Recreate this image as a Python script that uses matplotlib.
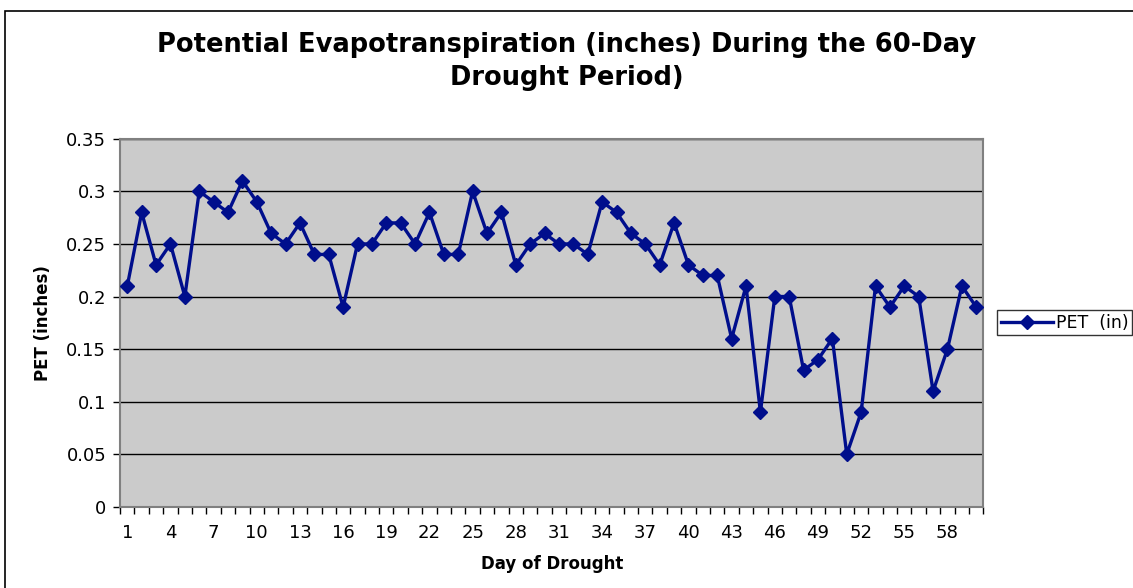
import matplotlib.pyplot as plt
from matplotlib.patches import Rectangle

plt.rcParams['font.family'] = ['DejaVu Sans']

# Datos
dias = list(range(1, 61))
pet = [0.21, 0.28, 0.23, 0.25, 0.20, 0.30, 0.29, 0.28, 0.31, 0.29,
       0.26, 0.25, 0.27, 0.24, 0.24, 0.19, 0.25, 0.25, 0.27, 0.27,
       0.25, 0.28, 0.24, 0.24, 0.30, 0.26, 0.28, 0.23, 0.25, 0.26,
       0.25, 0.25, 0.24, 0.29, 0.28, 0.26, 0.25, 0.23, 0.27, 0.23,
       0.22, 0.22, 0.16, 0.21, 0.09, 0.20, 0.20, 0.13, 0.14, 0.16,
       0.05, 0.09, 0.21, 0.19, 0.21, 0.20, 0.11, 0.15, 0.21, 0.19]
y_ticks = [0, 0.05, 0.1, 0.15, 0.2, 0.25, 0.3, 0.35]
y_labels = ['0', '0.05', '0.1', '0.15', '0.2', '0.25', '0.3', '0.35']

azul = '#000E8C'

fig = plt.figure(figsize=(11.33, 5.88), dpi=100)
fig.patches.append(Rectangle((0.004, -0.01), 1.2, 0.991, transform=fig.transFigure,
                             fill=False, edgecolor='black', linewidth=1.2))

ax = fig.add_axes([0.106, 0.138, 0.762, 0.626])
ax.set_facecolor('#CBCBCB')
ax.plot(dias, pet, color=azul, linewidth=2.4, marker='D', markersize=7.5,
        label='PET  (in)', zorder=3)

ax.set_xlim(0.5, 60.5)
ax.set_ylim(0, 0.35)
ax.set_yticks(y_ticks)
ax.set_yticklabels(y_labels)
ax.set_xticks(range(1, 59, 3))
ax.set_xticks([d + 0.5 for d in range(0, 61)], minor=True)
ax.tick_params(axis='x', which='major', length=0, pad=12, labelsize=13)
ax.tick_params(axis='x', which='minor', length=5, width=1, color='black')
ax.tick_params(axis='y', length=5, width=1, labelsize=13, pad=5)

ax.grid(True, axis='y', color='black', linewidth=1)
ax.set_axisbelow(True)
for lado in ['top', 'right', 'left', 'bottom']:
    ax.spines[lado].set_color('#808080')
    ax.spines[lado].set_linewidth(1.5)

ax.set_xlabel('Day of Drought', fontsize=12, fontweight='bold', labelpad=10)
ax.set_ylabel('PET (inches)', fontsize=12, fontweight='bold', labelpad=10)
fig.suptitle('Potential Evapotranspiration (inches) During the 60-Day\nDrought Period)',
             fontsize=18.5, fontweight='bold', y=0.945, linespacing=1.35)

leg = ax.legend(loc='center left', bbox_to_anchor=(1.01, 0.5), frameon=True,
                fancybox=False, fontsize=12.5, handlelength=3, borderpad=0.2,
                borderaxespad=0.3, handletextpad=0.2)
leg.get_frame().set_edgecolor('black')
leg.get_frame().set_linewidth(1)

fig.savefig('out.png', dpi=100)
